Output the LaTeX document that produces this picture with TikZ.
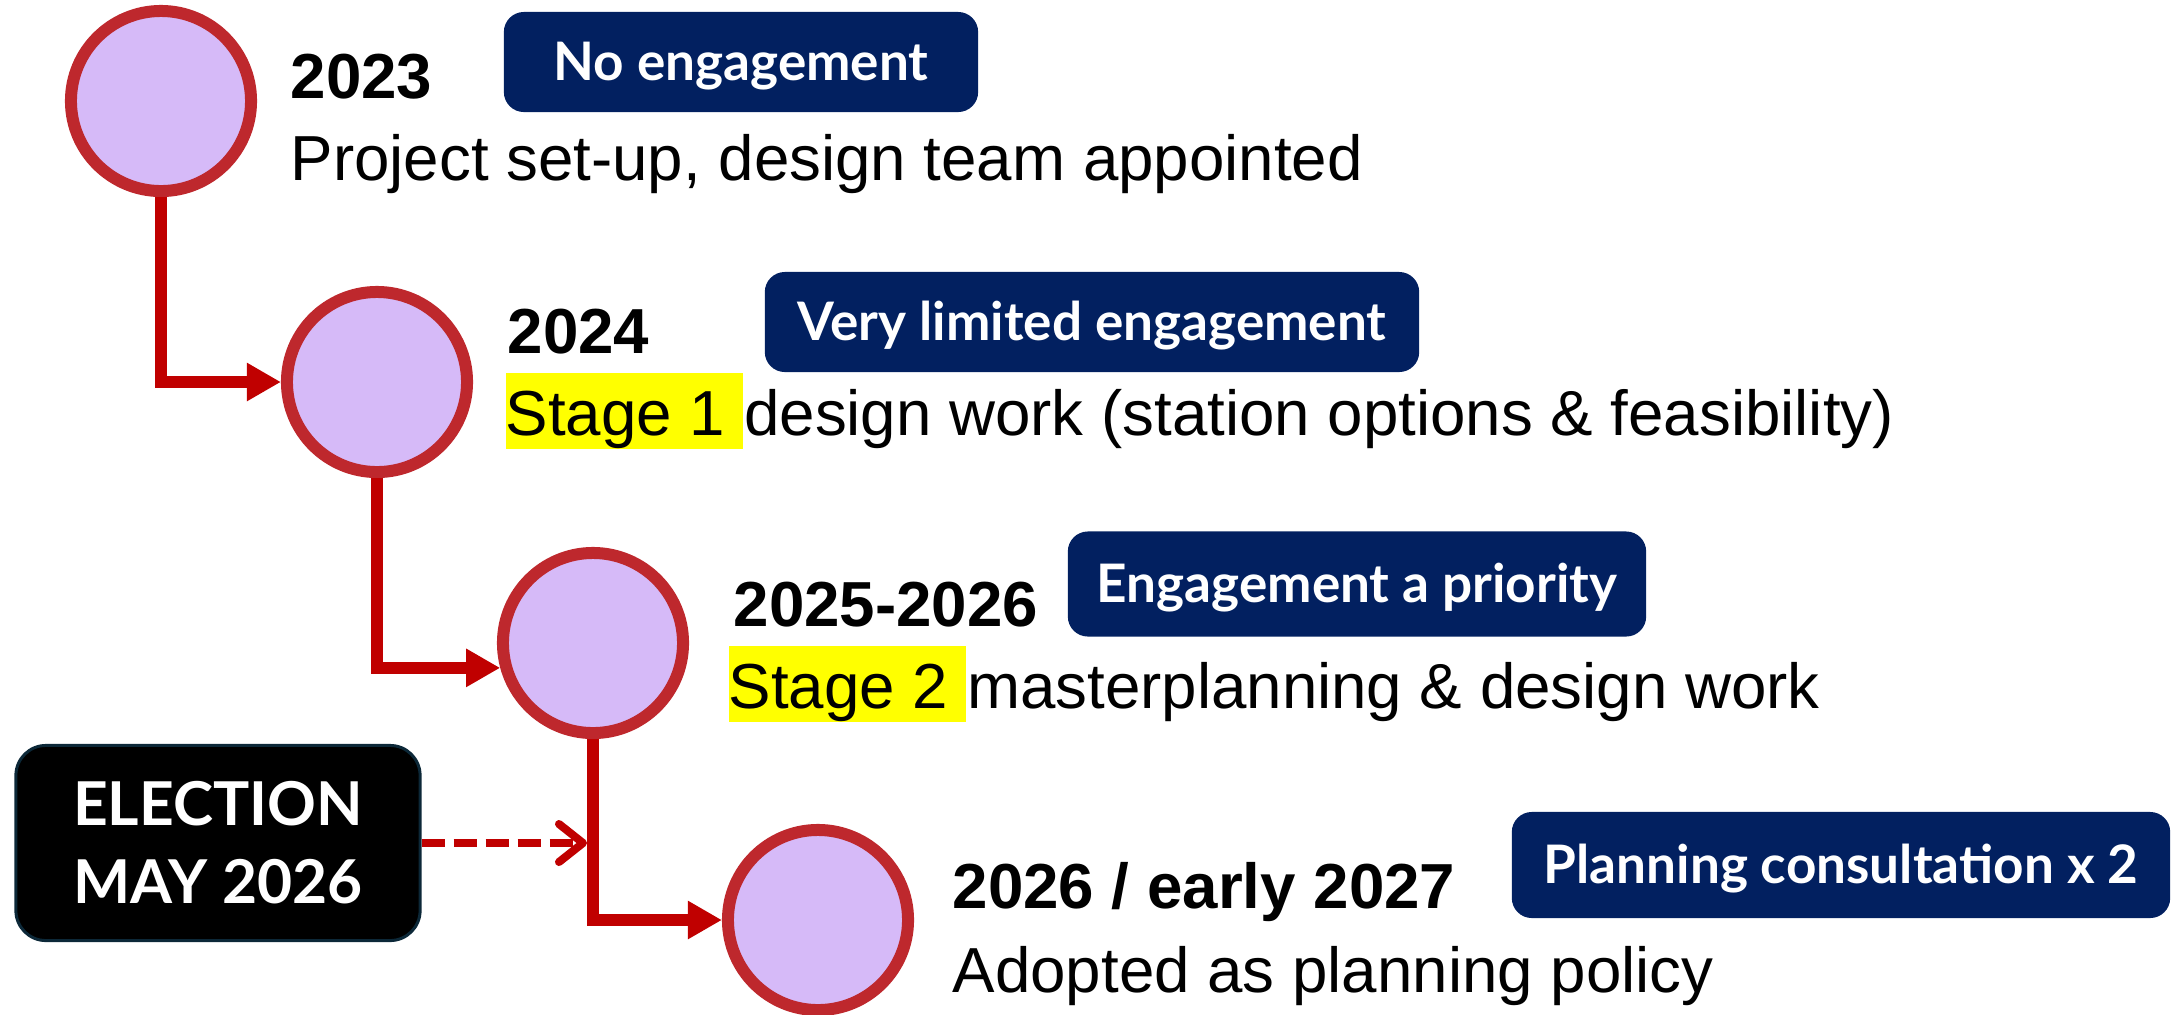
\documentclass[tikz,border=0pt]{standalone}
\usepackage{fontspec}
\setmainfont{Liberation Sans}
\newfontfamily\badgefont{Lato}
\usetikzlibrary{arrows.meta,positioning}

\definecolor{navy}{RGB}{2,32,96}
\definecolor{lilac}{RGB}{214,186,248}
\definecolor{ringred}{RGB}{190,40,45}
\definecolor{flowred}{RGB}{192,0,0}
\definecolor{edgeteal}{RGB}{12,40,56}
\definecolor{hiyellow}{RGB}{255,255,0}

\tikzset{
  milestone/.style={circle, draw=ringred, fill=lilac, line width=0.12cm, minimum size=1.8cm, inner sep=0},
  badge/.style={fill=navy, text=white, rounded corners=0.2cm, inner sep=0, text height=0.36cm, text depth=0cm, font=\badgefont\bfseries\fontsize{15.1}{18}\selectfont},
  yearlabel/.style={anchor=base west, inner sep=0, font=\bfseries\fontsize{18.1}{21}\selectfont},
  stagetext/.style={anchor=base west, inner sep=0, font=\fontsize{18.1}{21}\selectfont},
  hilite/.style={stagetext, fill=hiyellow, text height=0.62cm, text depth=0.14cm},
  flow/.style={draw=flowred, line width=0.12cm, -{Triangle[length=0.34cm,width=0.36cm]}},
}

\begin{document}
\begin{tikzpicture}[x=0.01cm, y=-0.01cm]
\useasboundingbox (0,0) rectangle (2172,1014);

\node[milestone] (c1) at (161,101) {};
\node[milestone] (c2) at (377,382) {};
\node[milestone] (c3) at (593,643) {};
\node[milestone] (c4) at (818,920) {};

\node[yearlabel] (y1) at (290,98) {2023};
\node[stagetext] (d1) at (290,180) {Project set-up, design team appointed};
\node[badge, minimum width=4.74cm, minimum height=1cm] (b1) at (741,62) {No engagement};

\node[yearlabel] (y2) at (507,353) {2024};
\node[hilite] (h2) at (505,435) {Stage 1\hspace*{0.278em}};
\node[stagetext] (d2) at (h2.base east) {design work (station options \& feasibility)};
\node[badge, minimum width=6.54cm, minimum height=1cm] (b2) at (1092,322) {Very limited engagement};

\node[yearlabel] (y3) at (733,626) {2025-2026};
\node[hilite] (h3) at (728,708) {Stage 2\hspace*{0.278em}};
\node[stagetext] (d3) at (h3.base east) {masterplanning \& design work};
\node[badge, minimum width=5.78cm, minimum height=1.05cm] (b3) at (1357,584) {Engagement a priority};

\node[yearlabel] (y4) at (952,908) {2026 / early 2027};
\node[stagetext] (d4) at (952,992) {Adopted as planning policy};
\node[badge, minimum width=6.58cm, minimum height=1.06cm] (b4) at (1841,865) {Planning consultation x 2};

\node[fill=black, draw=edgeteal, line width=0.03cm, rounded corners=0.3cm, minimum width=4.04cm, minimum height=1.95cm, text=white, align=center, font=\badgefont\bfseries\fontsize{17.2}{22.2}\selectfont] (elec) at (218,843) {ELECTION\\MAY 2026};

\draw[flow] (c1.south) |- (c2.west);
\draw[flow] (c2.south) |- (c3.195);
\draw[flow] (c3.south) |- (c4.west);

\coordinate (hit) at (elec.east -| c3.south);
\draw[flowred, line width=0.08cm, dash pattern=on 0.23cm off 0.09cm, shorten >=0.06cm, -{Straight Barb[length=0.24cm,width=0.38cm,round]}] (elec.east) -- (hit);

\end{tikzpicture}
\end{document}
